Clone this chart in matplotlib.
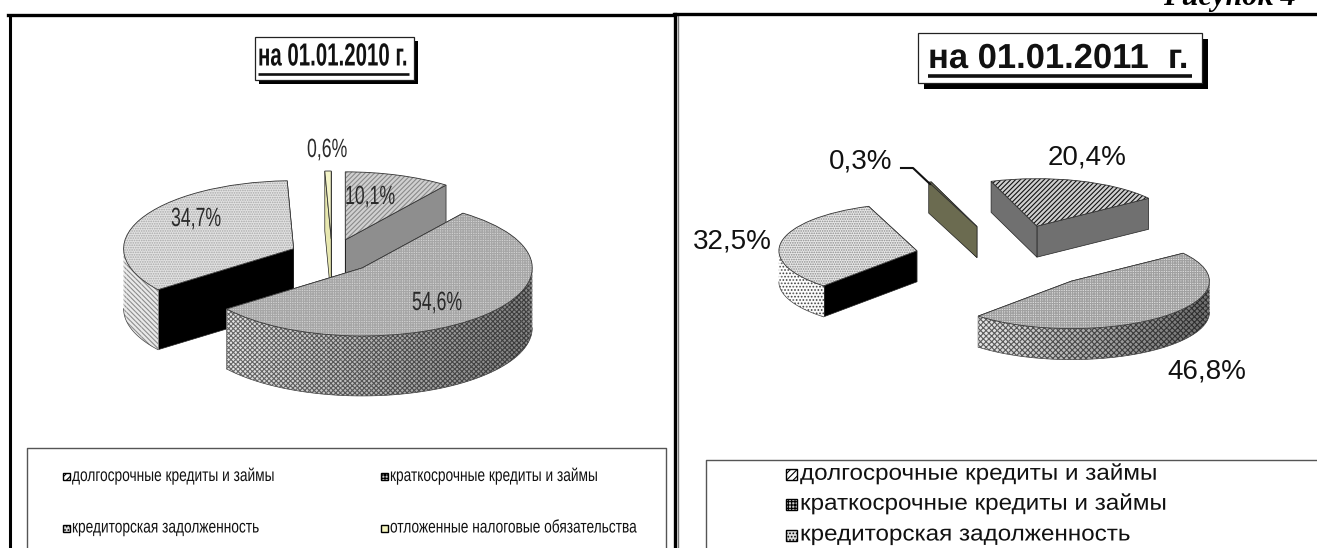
import numpy as np
import matplotlib
matplotlib.use("Agg")
import matplotlib.pyplot as plt
from matplotlib.patches import Wedge, Rectangle
from matplotlib.patheffects import AbstractPathEffect
from matplotlib.transforms import Affine2D

categories = ["долгосрочные кредиты и займы", "краткосрочные кредиты и займы",
              "кредиторская задолженность", "отложенные налоговые обязательства"]
values_2010 = [10.1, 54.6, 34.7, 0.6]
values_2011 = [20.4, 46.8, 32.5, 0.3]
title_2010 = "на 01.01.2010 г."
title_2011 = "на 01.01.2011  г."
figure_label = "Рисунок 4"

W, H = 1317, 548
plt.rcParams['hatch.linewidth'] = 0.8
SANS = 'Liberation Sans'
SERIF = 'Liberation Serif'


class HScale(AbstractPathEffect):
    """Draws a text narrower or wider about its own left edge."""
    def __init__(self, sx):
        super().__init__()
        self.sx = sx

    def draw_path(self, renderer, gc, tpath, affine, rgbFace=None):
        renderer.draw_path(gc, tpath, Affine2D().scale(self.sx, 1) + affine, rgbFace)


fig = plt.figure(figsize=(W / 100, H / 100), dpi=100, facecolor='white')
page = fig.add_axes([0, 0, 1, 1], zorder=5)
page.set_xlim(0, W); page.set_ylim(H, 0); page.axis('off'); page.patch.set_alpha(0)


def lab(v):
    return f"{v:.1f}".replace('.', ',') + '%'


def stext(x, y, s, sx, **kw):
    return page.text(x, y, s, ha='left', va='center', path_effects=[HScale(sx)], **kw)


def pie3d(values, cx, cy, a, b, depth_px, start, explode, order, tops, radials, sides):
    """cx, cy: pie centre in px; a, b: semi-axes in px."""
    wx, wy = 2.6, 3.2
    ax = fig.add_axes([(cx - wx * a) / W, 1 - (cy + wy * b) / H, 2 * wx * a / W, 2 * wy * b / H], zorder=2)
    wedges, _ = ax.pie(values, explode=[explode] * len(values), startangle=start, counterclock=False, radius=1)
    ax.set_aspect('auto'); ax.set_xlim(-wx, wx); ax.set_ylim(-wy, wy); ax.axis('off')
    d = depth_px / b
    for z, i in enumerate(order):
        w = wedges[i]
        x0, y0 = w.center
        t1, t2 = w.theta1, w.theta2
        base = 10 * (z + 1)
        for t in (t1, t2):
            cs, sn = np.cos(np.radians(t)), np.sin(np.radians(t))
            ax.fill([x0, x0 + cs, x0 + cs, x0], [y0, y0 + sn, y0 + sn - d, y0 - d],
                    facecolor=radials[i], edgecolor='#222222', lw=0.5, zorder=base)
        ranges = []
        for k in (-1, 0, 1, 2):
            s, e = max(t1, 180 + 360 * k), min(t2, 360 + 360 * k)
            if e > s:
                ranges.append((s, e))
        shades, hatch, hk = sides[i]
        for s, e in ranges:
            n = max(1, int((e - s) / 5))
            edges = np.linspace(s, e, n + 1)
            for j in range(n):
                th = np.radians(np.linspace(edges[j], edges[j + 1] + 0.3, 6))
                fr = (np.cos(th.mean()) + 1) / 2
                g = shades[0] + (shades[1] - shades[0]) * fr
                xs = x0 + np.cos(th); ys = y0 + np.sin(th)
                ax.fill(np.r_[xs, xs[::-1]], np.r_[ys, ys[::-1] - d],
                        facecolor=(g, g, g), edgecolor=(g * hk, g * hk, g * hk), hatch=hatch, lw=0, zorder=base + 1)
            th = np.radians(np.linspace(s, e, 60))
            ax.plot(x0 + np.cos(th), y0 + np.sin(th) - d, color='#444444', lw=0.5, zorder=base + 2)
        fc, hatch_t, hc_t = tops[i]
        w.set(facecolor=fc, edgecolor=hc_t, hatch=hatch_t, linewidth=0, zorder=base + 3)
        ax.add_patch(Wedge((x0, y0), 1, t1, t2, fill=False, edgecolor='#333333', lw=0.6, zorder=base + 4))
    return ax


pie3d(values_2010, 332, 256, 170, 68, 60, 90, 0.25, order=[3, 0, 2, 1],
      tops={0: ('#d0d0d0', '///////', '#8a8a8a'), 1: ('#d2d2d2', '+++++++', '#a6a6a6'),
            2: ('#e2e2e2', '.......', '#a8a8a8'), 3: ('#f4f4c8', None, '#333333')},
      radials={0: '#8e8e8e', 1: '#555555', 2: '#000000', 3: '#e8e8b0'},
      sides={0: ((.6, .4), None, .5), 1: ((.95, .5), 'xxxxxxx', .45),
             2: ((.92, .8), '\\\\\\\\\\\\\\', .6), 3: ((.9, .9), None, .5)})

pie3d(values_2011, 1009, 257, 138, 47.5, 31, 109.4, 0.68, order=[3, 0, 2, 1],
      tops={0: ('#cfcfcf', '///////', '#111111'), 1: ('#dcdcdc', '+++++++', '#a0a0a0'),
            2: ('#e8e8e8', '.......', '#8a8a8a'), 3: ('#6b6b50', None, '#333333')},
      radials={0: '#707070', 1: '#555555', 2: '#000000', 3: '#6b6b50'},
      sides={0: ((.5, .4), None, .5), 1: ((1.0, .42), 'xxxxxx', .4),
             2: ((1.0, .85), '.....', .25), 3: ((.5, .5), None, .5)})

# value labels
for v, x, y in zip(values_2010, [345, 412, 171, 307], [197, 303, 219, 150]):
    stext(x, y, lab(v), 0.67, family=SANS, fontsize=19, color='#2a2a2a')
for v, x, y in zip(values_2011, [1087, 1207, 732, 861], [158, 372, 241, 161]):
    page.text(x, y, lab(v), family=SANS, fontsize=20, ha='center', va='center', color='#111111')
page.plot([901, 913, 930], [168, 168, 184], color='#111111', lw=1.5, zorder=3)

# frames
bk = 'black'
page.plot([9.5, 9.5], [16, H], color=bk, lw=2.2)
page.plot([8, 675], [15, 15], color=bk, lw=2.4)
page.plot([674.5, 674.5], [14, H], color=bk, lw=2.4)
page.plot([678, 678], [15, H], color='#777777', lw=1.0)
page.plot([674, W], [13.5, 13.5], color=bk, lw=2.4)
page.plot([27, 27, 666, 666], [H, 447.5, 447.5, H], color='#555555', lw=1.0)
page.plot([706, 706, W], [H, 460, 460], color='#555555', lw=1.0)


def title_box(x0, y0, x1, y1, sh, text, fs, sx, tx, ty, ux0, ux1, uy, uw):
    page.add_patch(Rectangle((x0 + sh, y0 + sh), x1 - x0, y1 - y0, facecolor='black', edgecolor='black', lw=0, zorder=3))
    page.add_patch(Rectangle((x0, y0), x1 - x0, y1 - y0, facecolor='white', edgecolor='#222222', lw=0.9, zorder=4))
    stext(tx, ty, text, sx, family=SANS, weight='bold', fontsize=fs, color='#111111', zorder=5)
    page.plot([ux0, ux1], [uy, uy], color='#111111', lw=uw, zorder=5, solid_capstyle='butt')


title_box(254.5, 37, 414, 80, 4, title_2010, 23, 0.64, 258, 57.5, 258, 409, 74, 1.9)
title_box(918, 32.5, 1202, 83, 6, title_2011, 25, 0.995, 928, 58.5, 928, 1192, 76, 2.6)

# page caption (cut by the top edge in the reference too)
page.text(1163, 5, figure_label, family=SERIF, weight='bold', style='italic', fontsize=22,
          ha='left', va='baseline', color='black')


def legend_entry(x, y, text, fs, sx, hatch, fc, sq, tx):
    page.add_patch(Rectangle((x, y - sq / 2), sq, sq, facecolor=fc, edgecolor='black', hatch=hatch, lw=1.0, zorder=4))
    stext(tx, y, text, sx, family=SANS, fontsize=fs, color='#111111', zorder=5)


hl = ['/////', '+++++', '.....', None]
fl = ['white', '#cccccc', '#dddddd', '#f6f6c0']
for i, (x, y) in enumerate([(63, 476), (381, 476), (63, 528), (381, 528)]):
    legend_entry(x, y, categories[i], 13, 0.76, hl[i], fl[i], 7, x + 9)
for i, y in enumerate([474, 504, 535]):
    legend_entry(786, y, categories[i], 16, 1.09, hl[i], fl[i], 11, 800)

fig.savefig('out.png', dpi=100)
